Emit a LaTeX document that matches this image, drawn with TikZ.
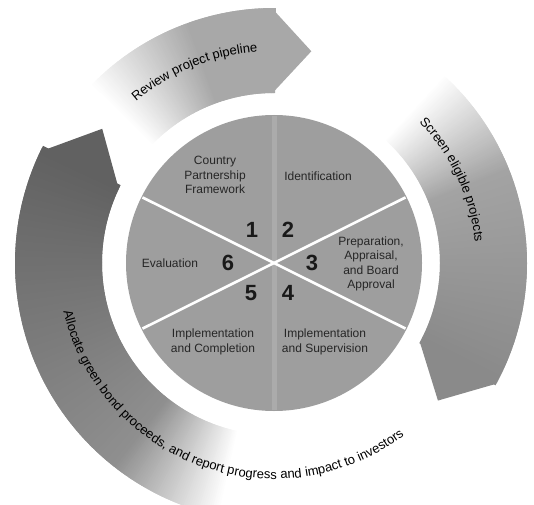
\documentclass[tikz,border=0pt]{standalone}
\usepackage{fontspec}
\setmainfont{Liberation Sans}
\usetikzlibrary{decorations.text}
\newcommand{\ringband}[5]{% tail angle, end angle, colour, inner r, outer r
  \fill[#3] (#1:#5) arc[start angle=#1,end angle=#2,radius=#5] -- (#2:#4) arc[start angle=#2,end angle=#1,radius=#4] -- cycle;}
\tikzset{
  lbl/.style={font=\fontsize{12}{14.5}\selectfont, align=center, text=black!85, inner sep=0pt},
  numlbl/.style={font=\fontsize{22}{24}\selectfont\bfseries, text=black!90, inner sep=0pt},
  divider/.style={white, line width=2.6pt},
  curvetext/.style={decorate, decoration={text along path, text align=center, text={|\fontsize{13}{15}\selectfont|#1}}}
}
\begin{document}
\begin{tikzpicture}[x=1pt,y=1pt]
\useasboundingbox (0,0) rectangle (534,504);
\begin{scope}[shift={(274,241)}]
  % ---- top arrow: Review project pipeline ----
  \foreach \k in {0,...,91}{
    \pgfmathsetmacro\s{136-0.5*\k}
    \pgfmathsetmacro\e{\s-0.9}
    \pgfmathsetmacro\p{\s>110 ? 34*(136-\s)/26 : 34}
    \ringband{\s}{\e}{black!\p}{170}{255}
  }
  \fill[black!34] (90.5:255) -- (80:215) -- (90.5:170) -- cycle;
  % ---- right arrow: Screen eligible projects ----
  \foreach \k in {0,...,152}{
    \pgfmathsetmacro\s{48-0.5*\k}
    \pgfmathsetmacro\e{\s-0.9}
    \pgfmathsetmacro\p{\s>22 ? 36*(48-\s)/26 : 36+10*(22-\s)/50}
    \ringband{\s}{\e}{black!\p}{166}{253}
  }
  \fill[black!46] (-28.5:253) -- (-40:214) -- (-28.5:166) -- cycle;
  % ---- left arrow: Allocate ... ----
  \foreach \k in {0,...,208}{
    \pgfmathsetmacro\s{258-0.5*\k}
    \pgfmathsetmacro\e{\s-0.9}
    \pgfmathsetmacro\p{\s>232 ? 44*(258-\s)/26 : 44+18*(232-\s)/78}
    \ringband{\s}{\e}{black!\p}{172}{259}
  }
  \fill[black!62] (154.5:259) -- (142:218) -- (154.5:172) -- cycle;
  % ---- central circle ----
  \fill[black!38] (0,0) circle[radius=148];
  \draw[white, opacity=0.14, line width=5pt] (90:147) -- (270:147);
  \draw[divider] (153.5:147) -- (-26.5:147);
  \draw[divider] (26.5:147) -- (206.5:147);
  % ---- curved texts ----
  \path[curvetext={Review project pipeline}] (131:212) arc[start angle=131,end angle=94,radius=212];
  \path[curvetext={Screen eligible projects}] (45:202) arc[start angle=45,end angle=5,radius=202];
  \path[curvetext={Allocate green bond proceeds, and report progress and impact to investors}] (191:216) arc[start angle=191,end angle=309,radius=216];
\end{scope}
% ---- labels inside the circle ----
\node[lbl] (cpf) at (215,329) {Country\\Partnership\\Framework};
\node[lbl] (ident) at (318,328) {Identification};
\node[lbl] (prep) at (371,240) {Preparation,\\Appraisal,\\and Board\\Approval};
\node[lbl] (eval) at (170,241) {Evaluation};
\node[lbl] (implc) at (213,162) {Implementation\\and Completion};
\node[lbl] (imps) at (325,162) {Implementation\\and Supervision};
\node[numlbl] (n1) at (252,274) {1};
\node[numlbl] (n2) at (288,274) {2};
\node[numlbl] (n3) at (312,241) {3};
\node[numlbl] (n4) at (288,211) {4};
\node[numlbl] (n5) at (251,211) {5};
\node[numlbl] (n6) at (228,241) {6};
\end{tikzpicture}
\end{document}
